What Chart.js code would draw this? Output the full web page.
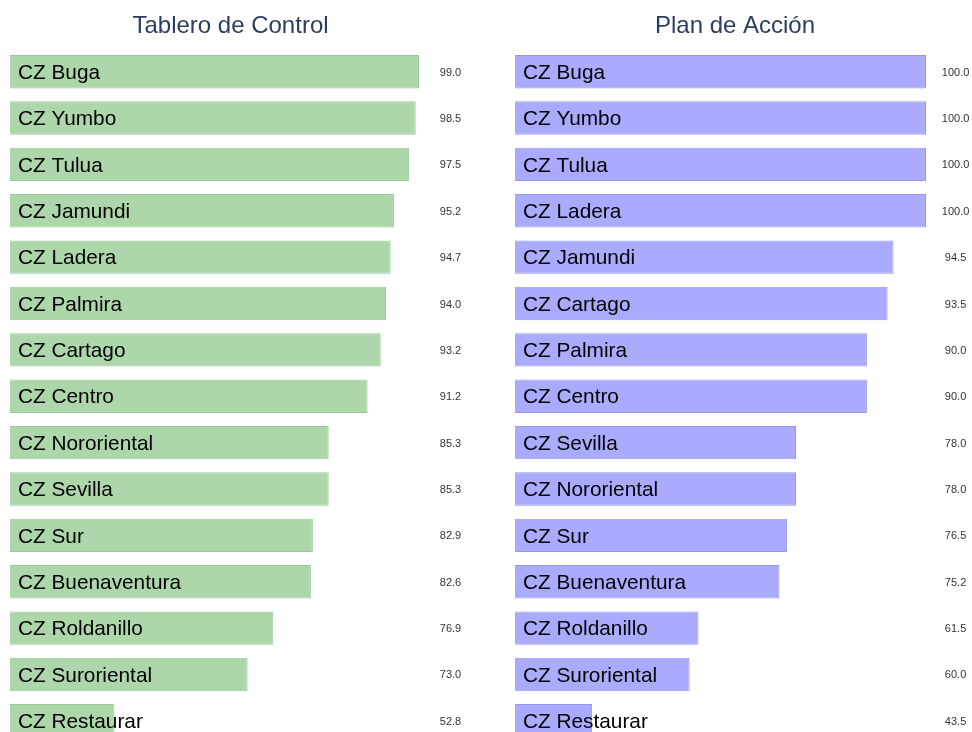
<!DOCTYPE html>
<html>
<head>
<meta charset="utf-8">
<script src="https://cdn.jsdelivr.net/npm/chart.js@4/dist/chart.umd.min.js"></script>
<style>
  html, body { margin: 0; padding: 0; background: #fff; overflow: hidden; }
  #wrap { position: relative; width: 972px; height: 732px; overflow: hidden; background: #fff; }
  #c1 { position: absolute; top: 0; left: -30px; }
  #c2 { position: absolute; top: 0; left: 498px; }
</style>
</head>
<body>
<div id="wrap">
  <canvas id="c1" width="521" height="744"></canvas>
  <canvas id="c2" width="474" height="744"></canvas>
</div>
<script>
// ---- Data ----
const tableroTitle = "Tablero de Control";
const tableroCategories = ["CZ Buga", "CZ Yumbo", "CZ Tulua", "CZ Jamundi", "CZ Ladera", "CZ Palmira", "CZ Cartago", "CZ Centro", "CZ Nororiental", "CZ Sevilla", "CZ Sur", "CZ Buenaventura", "CZ Roldanillo", "CZ Suroriental", "CZ Restaurar"];
const tableroValues = [99.0, 98.5, 97.5, 95.2, 94.7, 94.0, 93.2, 91.2, 85.3, 85.3, 82.9, 82.6, 76.9, 73.0, 52.8];

const planTitle = "Plan de Acción";
const planCategories = ["CZ Buga", "CZ Yumbo", "CZ Tulua", "CZ Ladera", "CZ Jamundi", "CZ Cartago", "CZ Palmira", "CZ Centro", "CZ Sevilla", "CZ Nororiental", "CZ Sur", "CZ Buenaventura", "CZ Roldanillo", "CZ Suroriental", "CZ Restaurar"];
const planValues = [100.0, 100.0, 100.0, 100.0, 94.5, 93.5, 90.0, 90.0, 78.0, 78.0, 76.5, 75.2, 61.5, 60.0, 43.5];

const FONT = "'Liberation Sans', Arial, Helvetica, sans-serif";

function makeChart(canvasId, title, cats, vals, fill, border, leftW, rightW, valPad) {
  const valueLabels = vals.map(v => v.toFixed(1));
  const xmin = Math.min(...vals) * 0.7;
  const xmax = Math.max(...vals);
  return new Chart(document.getElementById(canvasId), {
    type: 'bar',
    data: {
      labels: cats,
      datasets: [{
        data: vals,
        backgroundColor: fill,
        borderColor: border,
        borderWidth: 1,
        borderSkipped: false,
        barPercentage: 0.72,
        categoryPercentage: 1.0,
        yAxisID: 'y'
      }]
    },
    options: {
      indexAxis: 'y',
      responsive: false,
      animation: false,
      devicePixelRatio: 1,
      layout: { padding: 0 },
      plugins: {
        legend: { display: false },
        tooltip: { enabled: false },
        title: {
          display: true,
          text: title,
          color: '#2a3f5f',
          font: { family: FONT, size: 24, weight: 'normal', lineHeight: 1.2 },
          padding: { top: 12.4, bottom: 7.3 }
        }
      },
      scales: {
        x: { display: false, min: xmin, max: xmax },
        y: {
          position: 'left',
          grid: { display: false, drawTicks: false },
          border: { display: false },
          ticks: {
            mirror: true,
            z: 1,
            padding: 8,
            labelOffset: 1.5,
            autoSkip: false,
            color: '#000',
            font: { family: FONT, size: 20.8 }
          },
          afterFit: s => { s.width = leftW; s.paddingTop = 0; s.paddingBottom = 0; }
        },
        y2: {
          type: 'category',
          axis: 'y',
          position: 'right',
          labels: valueLabels,
          offset: true,
          grid: { display: false, drawTicks: false },
          border: { display: false },
          ticks: {
            crossAlign: 'center',
            padding: valPad,
            labelOffset: 1,
            autoSkip: false,
            color: '#333',
            font: { family: FONT, size: 11 }
          },
          afterFit: s => { s.width = rightW; s.paddingTop = 0; s.paddingBottom = 0; }
        }
      }
    }
  });
}

makeChart('c1', tableroTitle, tableroCategories, tableroValues,
  'rgb(173,214,171)', 'rgb(150,204,150)', 40, 72, 20.8);
makeChart('c2', planTitle, planCategories, planValues,
  'rgb(170,170,255)', 'rgb(150,150,240)', 17, 46, 15.8);
</script>
</body>
</html>
